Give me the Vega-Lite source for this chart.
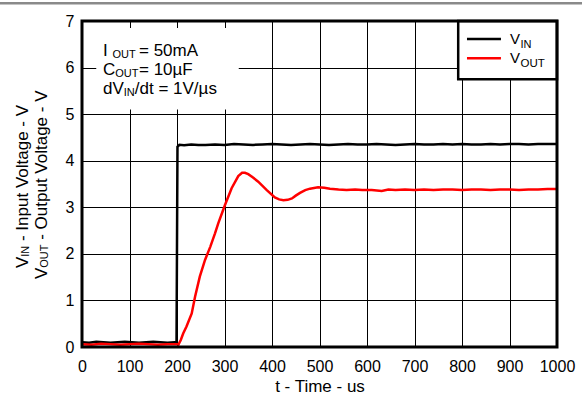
{
  "$schema": "https://vega.github.io/schema/vega-lite/v6.json",
  "width": 475,
  "height": 326,
  "autosize": {"type": "none"},
  "padding": {"left": 82, "top": 21, "right": 25, "bottom": 52},
  "background": "white",
  "data": {"values": [{}]},
  "config": {
    "view": {"stroke": null},
    "font": "Liberation Sans",
    "text": {"font": "Liberation Sans", "color": "#000000"},
    "axisX": {
      "domain": false, "ticks": false, "tickSize": 0,
      "grid": true, "gridColor": "#000000", "gridWidth": 1, "gridOpacity": 1,
      "labelFontSize": 16, "labelColor": "#000000", "labelPadding": 11, "labelFlush": false,
      "titleFontSize": 17, "titleFontWeight": "normal", "titleColor": "#000000", "titlePadding": 4
    },
    "axisY": {
      "domain": false, "ticks": false, "tickSize": 0,
      "grid": true, "gridColor": "#000000", "gridWidth": 1, "gridOpacity": 1,
      "labelFontSize": 16, "labelColor": "#000000", "labelPadding": 8
    }
  },
  "layer": [
    {
      "data": {"values": [
        {"series": "VIN", "t": 0, "v": 0.10}, {"series": "VIN", "t": 15, "v": 0.09}, {"series": "VIN", "t": 30, "v": 0.11},
        {"series": "VIN", "t": 45, "v": 0.10}, {"series": "VIN", "t": 60, "v": 0.09}, {"series": "VIN", "t": 75, "v": 0.10},
        {"series": "VIN", "t": 90, "v": 0.11}, {"series": "VIN", "t": 105, "v": 0.10}, {"series": "VIN", "t": 120, "v": 0.09},
        {"series": "VIN", "t": 135, "v": 0.10}, {"series": "VIN", "t": 150, "v": 0.11}, {"series": "VIN", "t": 165, "v": 0.10},
        {"series": "VIN", "t": 180, "v": 0.09}, {"series": "VIN", "t": 195, "v": 0.10}, {"series": "VIN", "t": 199, "v": 0.10},
        {"series": "VIN", "t": 201, "v": 4.30}, {"series": "VIN", "t": 205, "v": 4.34}, {"series": "VIN", "t": 215, "v": 4.33},
        {"series": "VIN", "t": 230, "v": 4.35}, {"series": "VIN", "t": 245, "v": 4.34}, {"series": "VIN", "t": 260, "v": 4.34},
        {"series": "VIN", "t": 280, "v": 4.35}, {"series": "VIN", "t": 300, "v": 4.34}, {"series": "VIN", "t": 320, "v": 4.36},
        {"series": "VIN", "t": 340, "v": 4.35}, {"series": "VIN", "t": 360, "v": 4.34}, {"series": "VIN", "t": 380, "v": 4.35},
        {"series": "VIN", "t": 400, "v": 4.36}, {"series": "VIN", "t": 420, "v": 4.35}, {"series": "VIN", "t": 440, "v": 4.34},
        {"series": "VIN", "t": 460, "v": 4.35}, {"series": "VIN", "t": 480, "v": 4.36}, {"series": "VIN", "t": 500, "v": 4.35},
        {"series": "VIN", "t": 520, "v": 4.34}, {"series": "VIN", "t": 540, "v": 4.35}, {"series": "VIN", "t": 560, "v": 4.36},
        {"series": "VIN", "t": 580, "v": 4.35}, {"series": "VIN", "t": 600, "v": 4.35}, {"series": "VIN", "t": 620, "v": 4.36},
        {"series": "VIN", "t": 640, "v": 4.35}, {"series": "VIN", "t": 660, "v": 4.34}, {"series": "VIN", "t": 680, "v": 4.35},
        {"series": "VIN", "t": 700, "v": 4.36}, {"series": "VIN", "t": 720, "v": 4.35}, {"series": "VIN", "t": 740, "v": 4.35},
        {"series": "VIN", "t": 760, "v": 4.36}, {"series": "VIN", "t": 780, "v": 4.35}, {"series": "VIN", "t": 800, "v": 4.36},
        {"series": "VIN", "t": 820, "v": 4.35}, {"series": "VIN", "t": 840, "v": 4.35}, {"series": "VIN", "t": 860, "v": 4.36},
        {"series": "VIN", "t": 880, "v": 4.35}, {"series": "VIN", "t": 900, "v": 4.36}, {"series": "VIN", "t": 920, "v": 4.36},
        {"series": "VIN", "t": 940, "v": 4.35}, {"series": "VIN", "t": 960, "v": 4.36}, {"series": "VIN", "t": 980, "v": 4.36},
        {"series": "VIN", "t": 1000, "v": 4.36},
        {"series": "VOUT", "t": 0, "v": 0.06}, {"series": "VOUT", "t": 20, "v": 0.05}, {"series": "VOUT", "t": 40, "v": 0.07},
        {"series": "VOUT", "t": 60, "v": 0.06}, {"series": "VOUT", "t": 80, "v": 0.05}, {"series": "VOUT", "t": 100, "v": 0.06},
        {"series": "VOUT", "t": 120, "v": 0.07}, {"series": "VOUT", "t": 140, "v": 0.06}, {"series": "VOUT", "t": 160, "v": 0.05},
        {"series": "VOUT", "t": 180, "v": 0.06}, {"series": "VOUT", "t": 200, "v": 0.06}, {"series": "VOUT", "t": 203, "v": 0.05},
        {"series": "VOUT", "t": 208, "v": 0.15}, {"series": "VOUT", "t": 213, "v": 0.29}, {"series": "VOUT", "t": 220, "v": 0.44},
        {"series": "VOUT", "t": 231, "v": 0.72}, {"series": "VOUT", "t": 238, "v": 1.08}, {"series": "VOUT", "t": 248, "v": 1.51},
        {"series": "VOUT", "t": 259, "v": 1.87}, {"series": "VOUT", "t": 270, "v": 2.15}, {"series": "VOUT", "t": 280, "v": 2.44},
        {"series": "VOUT", "t": 287, "v": 2.66}, {"series": "VOUT", "t": 301, "v": 3.05}, {"series": "VOUT", "t": 315, "v": 3.41},
        {"series": "VOUT", "t": 329, "v": 3.67}, {"series": "VOUT", "t": 337, "v": 3.74}, {"series": "VOUT", "t": 343, "v": 3.74},
        {"series": "VOUT", "t": 350, "v": 3.71}, {"series": "VOUT", "t": 360, "v": 3.64}, {"series": "VOUT", "t": 371, "v": 3.55},
        {"series": "VOUT", "t": 389, "v": 3.37}, {"series": "VOUT", "t": 406, "v": 3.21}, {"series": "VOUT", "t": 415, "v": 3.17},
        {"series": "VOUT", "t": 424, "v": 3.15}, {"series": "VOUT", "t": 433, "v": 3.16}, {"series": "VOUT", "t": 442, "v": 3.19},
        {"series": "VOUT", "t": 450, "v": 3.25}, {"series": "VOUT", "t": 459, "v": 3.31}, {"series": "VOUT", "t": 470, "v": 3.37},
        {"series": "VOUT", "t": 480, "v": 3.40}, {"series": "VOUT", "t": 497, "v": 3.43}, {"series": "VOUT", "t": 510, "v": 3.42},
        {"series": "VOUT", "t": 522, "v": 3.40}, {"series": "VOUT", "t": 540, "v": 3.38}, {"series": "VOUT", "t": 557, "v": 3.37},
        {"series": "VOUT", "t": 575, "v": 3.38}, {"series": "VOUT", "t": 590, "v": 3.37}, {"series": "VOUT", "t": 610, "v": 3.37},
        {"series": "VOUT", "t": 631, "v": 3.35}, {"series": "VOUT", "t": 645, "v": 3.38}, {"series": "VOUT", "t": 660, "v": 3.37},
        {"series": "VOUT", "t": 680, "v": 3.38}, {"series": "VOUT", "t": 700, "v": 3.37}, {"series": "VOUT", "t": 720, "v": 3.38},
        {"series": "VOUT", "t": 740, "v": 3.37}, {"series": "VOUT", "t": 760, "v": 3.38}, {"series": "VOUT", "t": 780, "v": 3.38},
        {"series": "VOUT", "t": 800, "v": 3.37}, {"series": "VOUT", "t": 820, "v": 3.38}, {"series": "VOUT", "t": 840, "v": 3.38},
        {"series": "VOUT", "t": 860, "v": 3.37}, {"series": "VOUT", "t": 880, "v": 3.38}, {"series": "VOUT", "t": 900, "v": 3.38},
        {"series": "VOUT", "t": 920, "v": 3.37}, {"series": "VOUT", "t": 940, "v": 3.38}, {"series": "VOUT", "t": 960, "v": 3.38},
        {"series": "VOUT", "t": 980, "v": 3.39}, {"series": "VOUT", "t": 1000, "v": 3.39}
      ]},
      "mark": {"type": "line", "strokeWidth": 2.5},
      "encoding": {
        "x": {"field": "t", "type": "quantitative",
              "scale": {"domain": [0, 1000], "nice": false},
              "axis": {"values": [0, 100, 200, 300, 400, 500, 600, 700, 800, 900, 1000], "format": "d", "title": "t - Time - us"}},
        "y": {"field": "v", "type": "quantitative",
              "scale": {"domain": [0, 7], "nice": false},
              "axis": {"values": [0, 1, 2, 3, 4, 5, 6, 7], "format": "d", "title": null}},
        "color": {"field": "series", "type": "nominal",
                  "scale": {"domain": ["VIN", "VOUT"], "range": ["#000000", "#ff0000"]},
                  "legend": null}
      }
    },
    {
      "mark": {"type": "rect", "fill": "white"},
      "encoding": {
        "x": {"datum": 30, "type": "quantitative"}, "x2": {"datum": 330},
        "y": {"datum": 5.1, "type": "quantitative"}, "y2": {"datum": 6.85}
      }
    },
    {
      "mark": {"type": "rect", "fill": "white", "stroke": "#000000", "strokeWidth": 2.5},
      "encoding": {
        "x": {"datum": 792, "type": "quantitative"}, "x2": {"datum": 1000},
        "y": {"datum": 5.75, "type": "quantitative"}, "y2": {"datum": 7}
      }
    },
    {
      "mark": {"type": "rule", "color": "#000000", "strokeWidth": 2.5},
      "encoding": {
        "x": {"datum": 810.5, "type": "quantitative"}, "x2": {"datum": 882},
        "y": {"datum": 6.614, "type": "quantitative"}
      }
    },
    {
      "mark": {"type": "rule", "color": "#ff0000", "strokeWidth": 2.5},
      "encoding": {
        "x": {"datum": 810.5, "type": "quantitative"}, "x2": {"datum": 882},
        "y": {"datum": 6.199, "type": "quantitative"}
      }
    },
    {"mark": {"type": "text", "align": "left", "baseline": "alphabetic", "fontSize": 15},
     "encoding": {"x": {"datum": 901, "type": "quantitative"}, "y": {"datum": 6.506, "type": "quantitative"}, "text": {"value": "V"}}},
    {"mark": {"type": "text", "align": "left", "baseline": "alphabetic", "fontSize": 11, "dx": 10.5, "dy": 4},
     "encoding": {"x": {"datum": 901, "type": "quantitative"}, "y": {"datum": 6.506, "type": "quantitative"}, "text": {"value": "IN"}}},
    {"mark": {"type": "text", "align": "left", "baseline": "alphabetic", "fontSize": 15},
     "encoding": {"x": {"datum": 901, "type": "quantitative"}, "y": {"datum": 6.092, "type": "quantitative"}, "text": {"value": "V"}}},
    {"mark": {"type": "text", "align": "left", "baseline": "alphabetic", "fontSize": 11.5, "dx": 10.5, "dy": 4},
     "encoding": {"x": {"datum": 901, "type": "quantitative"}, "y": {"datum": 6.092, "type": "quantitative"}, "text": {"value": "OUT"}}},

    {"mark": {"type": "text", "align": "left", "baseline": "alphabetic", "fontSize": 17},
     "encoding": {"x": {"datum": 44.2, "type": "quantitative"}, "y": {"datum": 6.249, "type": "quantitative"}, "text": {"value": "I"}}},
    {"mark": {"type": "text", "align": "left", "baseline": "alphabetic", "fontSize": 11, "dx": 9.5, "dy": 2},
     "encoding": {"x": {"datum": 44.2, "type": "quantitative"}, "y": {"datum": 6.249, "type": "quantitative"}, "text": {"value": "OUT"}}},
    {"mark": {"type": "text", "align": "left", "baseline": "alphabetic", "fontSize": 17, "dx": 36},
     "encoding": {"x": {"datum": 44.2, "type": "quantitative"}, "y": {"datum": 6.249, "type": "quantitative"}, "text": {"value": "= 50mA"}}},
    {"mark": {"type": "text", "align": "left", "baseline": "alphabetic", "fontSize": 17},
     "encoding": {"x": {"datum": 44.2, "type": "quantitative"}, "y": {"datum": 5.841, "type": "quantitative"}, "text": {"value": "C"}}},
    {"mark": {"type": "text", "align": "left", "baseline": "alphabetic", "fontSize": 11, "dx": 12.3, "dy": 2},
     "encoding": {"x": {"datum": 44.2, "type": "quantitative"}, "y": {"datum": 5.841, "type": "quantitative"}, "text": {"value": "OUT"}}},
    {"mark": {"type": "text", "align": "left", "baseline": "alphabetic", "fontSize": 17, "dx": 36},
     "encoding": {"x": {"datum": 44.2, "type": "quantitative"}, "y": {"datum": 5.841, "type": "quantitative"}, "text": {"value": "= 10µF"}}},
    {"mark": {"type": "text", "align": "left", "baseline": "alphabetic", "fontSize": 17},
     "encoding": {"x": {"datum": 44.2, "type": "quantitative"}, "y": {"datum": 5.433, "type": "quantitative"}, "text": {"value": "dV"}}},
    {"mark": {"type": "text", "align": "left", "baseline": "alphabetic", "fontSize": 11, "dx": 20.8, "dy": 2},
     "encoding": {"x": {"datum": 44.2, "type": "quantitative"}, "y": {"datum": 5.433, "type": "quantitative"}, "text": {"value": "IN"}}},
    {"mark": {"type": "text", "align": "left", "baseline": "alphabetic", "fontSize": 17, "dx": 31.8},
     "encoding": {"x": {"datum": 44.2, "type": "quantitative"}, "y": {"datum": 5.433, "type": "quantitative"}, "text": {"value": "/dt = 1V/µs"}}},

    {"mark": {"type": "text", "align": "left", "baseline": "alphabetic", "fontSize": 17, "angle": 270},
     "encoding": {"x": {"datum": -113.7, "type": "quantitative"}, "y": {"datum": 1.696, "type": "quantitative"}, "text": {"value": "V"}}},
    {"mark": {"type": "text", "align": "left", "baseline": "alphabetic", "fontSize": 11, "angle": 270, "dx": 11.3, "dy": 1.5},
     "encoding": {"x": {"datum": -113.7, "type": "quantitative"}, "y": {"datum": 1.696, "type": "quantitative"}, "text": {"value": "IN"}}},
    {"mark": {"type": "text", "align": "left", "baseline": "alphabetic", "fontSize": 17, "angle": 270, "dx": 27},
     "encoding": {"x": {"datum": -113.7, "type": "quantitative"}, "y": {"datum": 1.696, "type": "quantitative"}, "text": {"value": "- Input Voltage - V"}}},
    {"mark": {"type": "text", "align": "left", "baseline": "alphabetic", "fontSize": 17, "angle": 270},
     "encoding": {"x": {"datum": -73.7, "type": "quantitative"}, "y": {"datum": 1.46, "type": "quantitative"}, "text": {"value": "V"}}},
    {"mark": {"type": "text", "align": "left", "baseline": "alphabetic", "fontSize": 11, "angle": 270, "dx": 11.3, "dy": 1.5},
     "encoding": {"x": {"datum": -73.7, "type": "quantitative"}, "y": {"datum": 1.46, "type": "quantitative"}, "text": {"value": "OUT"}}},
    {"mark": {"type": "text", "align": "left", "baseline": "alphabetic", "fontSize": 17, "angle": 270, "dx": 39.2},
     "encoding": {"x": {"datum": -73.7, "type": "quantitative"}, "y": {"datum": 1.46, "type": "quantitative"}, "text": {"value": "- Output Voltage - V"}}},

    {
      "mark": {"type": "rect", "filled": false, "stroke": "#000000", "strokeWidth": 3},
      "encoding": {
        "x": {"datum": 0, "type": "quantitative"}, "x2": {"datum": 1000},
        "y": {"datum": 0, "type": "quantitative"}, "y2": {"datum": 7}
      }
    },
    {
      "mark": {"type": "rule", "color": "#8a8a8a", "strokeWidth": 2.5},
      "encoding": {
        "x": {"datum": -175, "type": "quantitative"}, "x2": {"datum": 1055},
        "y": {"datum": 7.383, "type": "quantitative"}
      }
    }
  ]
}
